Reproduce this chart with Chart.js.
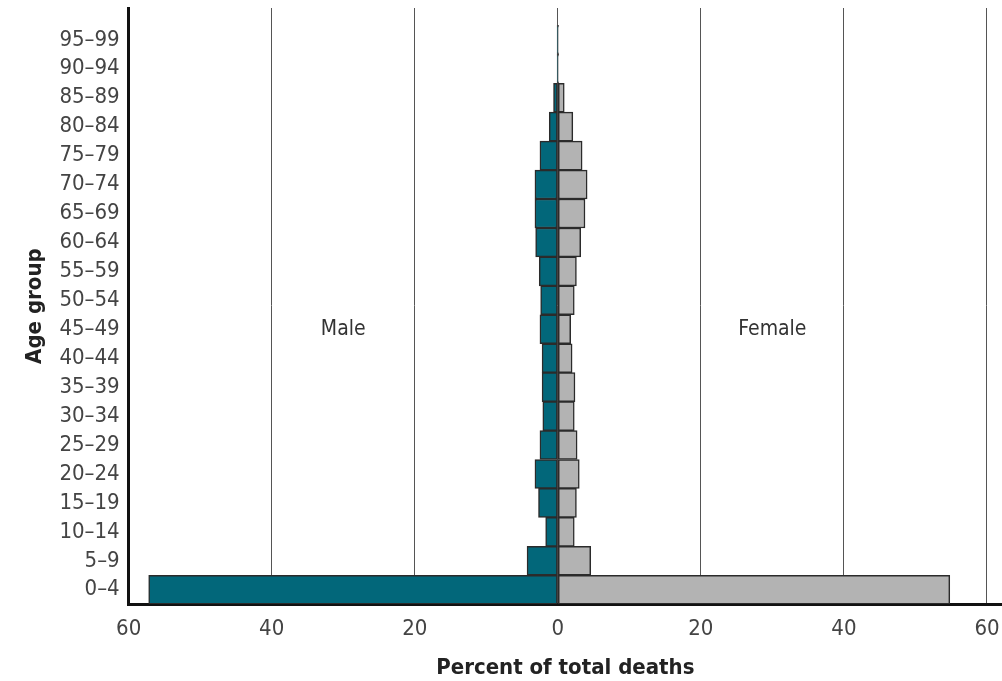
<!DOCTYPE html>
<html>
<head>
<meta charset="utf-8">
<script src="https://cdn.jsdelivr.net/npm/chart.js@4/dist/chart.umd.min.js"></script>
<style>
  html, body { margin: 0; padding: 0; background: #fff; }
  #wrap { width: 1002px; height: 681px; position: relative; }
</style>
</head>
<body>
<div id="wrap"><canvas id="pyramid"></canvas></div>
<script>
// age groups from bottom (0-4) to top (95-99)
const ageGroups = ["0–4", "5–9", "10–14", "15–19", "20–24", "25–29", "30–34", "35–39", "40–44", "45–49",
  "50–54", "55–59", "60–64", "65–69", "70–74", "75–79", "80–84", "85–89", "90–94", "95–99"];

// percent of total deaths
const malePct = [57.2, 4.3, 1.7, 2.7, 3.2, 2.5, 2.1, 2.2, 2.2, 2.5,
  2.4, 2.6, 3.1, 3.2, 3.2, 2.5, 1.2, 0.6, 0.1, 0.1];
const femalePct = [54.8, 4.6, 2.3, 2.6, 3.0, 2.7, 2.3, 2.4, 2.0, 1.8,
  2.3, 2.6, 3.2, 3.8, 4.1, 3.4, 2.1, 0.9, 0.1, 0.1];

const xTicks = [-60, -40, -20, 0, 20, 40, 60];
const sexLabels = ["Male", "Female"];

const FONT = "'DejaVu Sans Condensed', 'Liberation Sans Narrow', sans-serif";

const sexLabelPlugin = {
  id: "sexLabels",
  afterDatasetsDraw(chart) {
    const { ctx, scales } = chart;
    ctx.save();
    ctx.font = "21px " + FONT;
    ctx.fillStyle = "#333";
    ctx.textAlign = "center";
    ctx.textBaseline = "middle";
    ctx.fillText(sexLabels[0], scales.x.getPixelForValue(-30), scales.y.getPixelForValue(9));
    ctx.fillText(sexLabels[1], scales.x.getPixelForValue(30), scales.y.getPixelForValue(9));
    ctx.restore();
  }
};

const chart = new Chart(document.getElementById("pyramid"), {
  type: "bar",
  data: {
    datasets: [
      {
        label: "Male",
        data: malePct.map((v, i) => ({ x: -v, y: i })),
        backgroundColor: "#02677a",
        borderColor: "#2b2b2b",
        borderWidth: 1.5,
        borderSkipped: false,
        barPercentage: 1,
        categoryPercentage: 1
      },
      {
        label: "Female",
        data: femalePct.map((v, i) => ({ x: v, y: i })),
        backgroundColor: "#b3b3b3",
        borderColor: "#2b2b2b",
        borderWidth: 1.5,
        borderSkipped: false,
        barPercentage: 1,
        categoryPercentage: 1
      }
    ]
  },
  options: {
    indexAxis: "y",
    responsive: true,
    maintainAspectRatio: false,
    animation: false,
    layout: { padding: { top: 8, right: 0, left: 22, bottom: 0 } },
    plugins: {
      legend: { display: false },
      tooltip: { enabled: false }
    },
    scales: {
      x: {
        type: "linear",
        min: -60,
        max: 62.1,
        stacked: true,
        afterBuildTicks: (scale) => { scale.ticks = xTicks.map((v) => ({ value: v })); },
        afterFit: (scale) => { scale.paddingLeft = 0; scale.paddingRight = 0; },
        ticks: {
          callback: (v) => Math.abs(v),
          font: { family: FONT, size: 22 },
          color: "#444",
          padding: 12
        },
        grid: { color: "#555", lineWidth: 1, drawTicks: false },
        border: { display: true, color: "#111", width: 3 },
        title: {
          display: true,
          text: "Percent of total deaths",
          font: { family: FONT, size: 22, weight: "bold" },
          color: "#222",
          padding: { top: 0, bottom: 0 }
        }
      },
      y: {
        type: "linear",
        min: -0.5,
        max: 20.1,
        offset: false,
        stacked: true,
        afterFit: (scale) => { scale.paddingTop = 0; scale.paddingBottom = 0; },
        ticks: {
          stepSize: 1,
          autoSkip: false,
          includeBounds: false,
          callback: (v) => (ageGroups[v] !== undefined ? ageGroups[v] : null),
          font: { family: FONT, size: 22 },
          color: "#444",
          padding: 9
        },
        grid: { display: false, drawTicks: false },
        border: { display: true, color: "#111", width: 3 },
        title: {
          display: true,
          text: "Age group",
          font: { family: FONT, size: 22, weight: "bold" },
          color: "#222",
          padding: { top: 0, bottom: 2 }
        }
      }
    }
  },
  plugins: [sexLabelPlugin]
});
</script>
</body>
</html>
